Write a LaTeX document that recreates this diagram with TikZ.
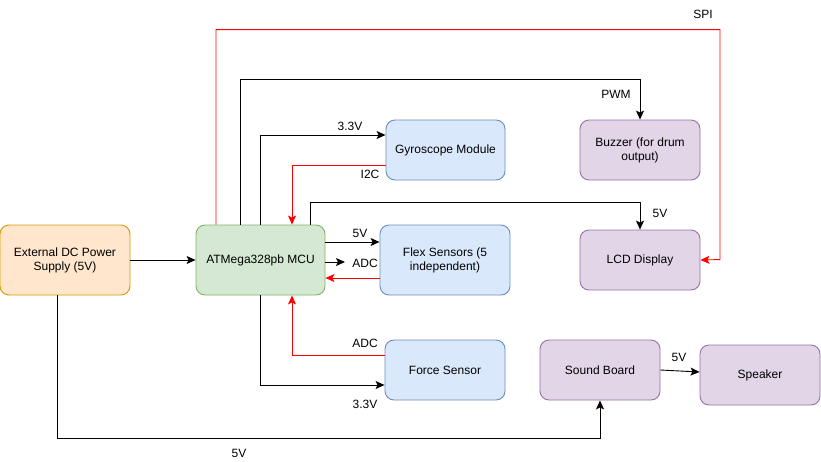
\documentclass[tikz,border=0pt]{standalone}
\usepackage{fontspec}
\setmainfont{Liberation Sans}
\usetikzlibrary{arrows.meta}
\definecolor{pwrfill}{HTML}{FFE6CC}
\definecolor{pwrline}{HTML}{D79B00}
\definecolor{mcufill}{HTML}{D5E8D4}
\definecolor{mculine}{HTML}{82B366}
\definecolor{senfill}{HTML}{DAE8FC}
\definecolor{senline}{HTML}{6C8EBF}
\definecolor{outfill}{HTML}{E1D5E7}
\definecolor{outline}{HTML}{9673A6}

\begin{document}
\begin{tikzpicture}[x=1pt,y=-1pt,font=\fontsize{12}{14}\selectfont,
    box/.style={draw,rounded corners=9pt,line width=0.9pt,align=center,inner sep=2pt},
    pwrbox/.style={box,fill=pwrfill,draw=pwrline},
    mcubox/.style={box,fill=mcufill,draw=mculine},
    senbox/.style={box,fill=senfill,draw=senline},
    outbox/.style={box,fill=outfill,draw=outline},
    wire/.style={line width=0.9pt,-{Stealth[length=9pt,width=8pt,inset=2pt]}},
    sig/.style={wire,red},
    lbl/.style={inner sep=1pt}]
  \useasboundingbox (0,0) rectangle (821,461);

  % blocks
  \node[pwrbox,minimum width=130pt,minimum height=70pt] (psu) at (65,260) {External DC Power\\Supply (5V)};
  \node[mcubox,minimum width=129pt,minimum height=70pt] (mcu) at (260.5,260) {ATMega328pb MCU};
  \node[senbox,minimum width=119pt,minimum height=60pt] (gyro) at (445.5,150) {Gyroscope Module};
  \node[senbox,minimum width=130pt,minimum height=70pt] (flex) at (445,260) {Flex Sensors (5\\independent)};
  \node[senbox,minimum width=120pt,minimum height=60pt] (force) at (445,370) {Force Sensor};
  \node[outbox,minimum width=120pt,minimum height=60pt] (buzz) at (640,150) {Buzzer (for drum\\output)};
  \node[outbox,minimum width=120pt,minimum height=60pt] (lcd) at (640,260) {LCD Display};
  \node[outbox,minimum width=120pt,minimum height=60pt] (snd) at (600,370) {Sound Board};
  \node[outbox,minimum width=120pt,minimum height=60pt] (spk) at (760,375) {Speaker};
  \coordinate (adcend) at (345,262);

  % power
  \draw[wire] (psu) -- (mcu);
  \draw[wire] ([xshift=-8pt]psu.south) |- ([yshift=-38pt]snd.south) -- (snd.south);
  \draw[wire] (snd.east) -- ([yshift=3pt]spk.west);

  % mcu to outputs
  \draw[sig] ([xshift=-44.5pt]mcu.north) -- ++(0,-195) -| ++(504,230) -- (lcd.east);
  \draw[wire] ([xshift=-20.5pt]mcu.north) -- ++(0,-145) -| (buzz.north);
  \draw[wire] ([xshift=49.5pt]mcu.north) -- ++(0,-22) -| (lcd.north);

  % sensors
  \draw[wire] (mcu.north) |- ([yshift=15pt]gyro.west);
  \draw[sig] ([yshift=-15pt]gyro.west) -| ([xshift=31.5pt]mcu.north);
  \draw[wire] ([yshift=18pt]mcu.east) -- ([yshift=18pt]flex.west);
  \draw[wire] ([yshift=-2pt]mcu.east) -- (adcend);
  \draw[sig] ([yshift=-18pt]flex.west) -- ([yshift=-18pt]mcu.east);
  \draw[sig] ([yshift=15pt]force.west) -| ([xshift=31.5pt]mcu.south);
  \draw[wire] (mcu.south) |- ([yshift=-15pt]force.west);

  % labels
  \node[lbl] (lspi) at (703,14) {SPI};
  \node[lbl] (lpwm) at (616,94) {PWM};
  \node[lbl] (lgyv) at (350,126) {3.3V};
  \node[lbl] (li2c) at (370,174) {I2C};
  \node[lbl] (llcdv) at (660,213) {5V};
  \node[lbl] (lflexv) at (360,233) {5V};
  \node[lbl] (ladc) at (365,263) {ADC};
  \node[lbl] (lfadc) at (365,343) {ADC};
  \node[lbl] (lfv) at (365,404) {3.3V};
  \node[lbl] (lsndv) at (239,453) {5V};
  \node[lbl] (lspkv) at (679,357) {5V};
\end{tikzpicture}
\end{document}
